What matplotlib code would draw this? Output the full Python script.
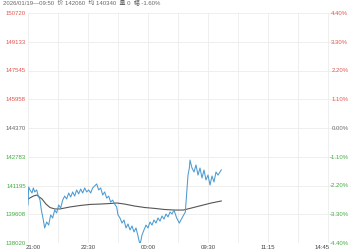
import matplotlib
matplotlib.use("Agg")
import matplotlib.pyplot as plt
import matplotlib.transforms as mtransforms

plt.rcParams["font.family"] = ["Liberation Sans", "Noto Sans CJK SC", "DejaVu Sans"]

# trading-minute index from 21:00 (night 240 min, then day session)
price_minute = [0, 1, 3, 6, 8, 10, 13, 15, 18, 20, 23, 25, 28, 31, 34, 37, 40, 43, 46, 49,
                52, 55, 58, 61, 64, 67, 70, 73, 76, 79, 82, 85, 88, 91, 94, 97, 100, 103,
                106, 109, 112, 115, 118, 121, 124, 127, 130, 133, 135, 138, 141, 144, 147,
                150, 153, 156, 159, 162, 165, 168, 171, 174, 177, 180, 183, 186, 189, 192,
                195, 198, 201, 204, 207, 210, 213, 216, 219, 223, 227, 231, 236, 240, 242,
                243, 246, 249, 252, 255, 258, 261, 264, 267, 270, 273, 276, 279, 282, 285, 290]
price = [140120, 141110, 140950, 140780, 141060, 140840, 140950, 140670, 140390, 139840,
         139290, 138850, 139180, 139010, 139570, 139400, 139840, 139680, 140120, 139950,
         140390, 140610, 140450, 140780, 140560, 140840, 140610, 140950, 140730, 141000,
         140780, 141060, 140840, 140950, 140780, 141060, 141170, 141280, 140950, 141060,
         140670, 140840, 140500, 140610, 140280, 140390, 140170, 140010, 139570, 139400,
         139120, 139290, 138850, 139070, 138740, 138960, 138630, 138850, 138410, 137910,
         138460, 138740, 139010, 138850, 139180, 139010, 139290, 139120, 139400, 139230,
         139510, 139340, 139620, 139460, 139730, 139620, 139840, 139400, 139120, 139400,
         139730, 141770, 142160, 142600, 142160, 141940, 142330, 141770, 142160, 141610,
         142050, 141500, 141770, 141220, 141720, 141390, 141940, 141770, 142060]

avg_minute = [0, 8, 13, 21, 27, 33, 40, 48, 63, 78, 93, 108, 123, 133, 145, 160, 175, 190,
              205, 220, 233, 245, 260, 275, 290]
avg_price = [140450, 140610, 140670, 140450, 140170, 139980, 139900, 139900, 140010, 140090,
             140150, 140170, 140200, 140230, 140170, 140060, 139980, 139930, 139870, 139840,
             139840, 139950, 140090, 140230, 140340]

price_ticks = [150720, 149133, 147545, 145958, 144370, 142783, 141195, 139608, 138020]
pct_labels = ["4.40%", "3.30%", "2.20%", "1.10%", "0.00%", "-1.10%", "-2.20%", "-3.30%", "-4.40%"]
time_ticks = [0, 90, 180, 270, 360, 450]
time_labels = ["21:00", "22:30", "00:00", "09:30", "11:15", "14:45"]
header = "2026/01/19\u201409:50  价 142060  均 140340  量 0  幅 -1.60%"

red, green, grey = "#e25550", "#3faa3f", "#666666"

fig = plt.figure(figsize=(3.5, 2.5), dpi=100)
ax = fig.add_axes([28 / 350, 7 / 250, 310 / 350, 230 / 250])

ax.plot(avg_minute, avg_price, color="#555555", lw=0.8)
ax.plot(price_minute, price, color="#4b9bd1", lw=0.75)

ax.set_xlim(0, 465)
ax.set_ylim(price_ticks[-1], price_ticks[0])
ax.set_xticks(range(0, 451, 45))
ax.set_yticks(price_ticks)
ax.grid(True, color="#ececec", lw=0.6)
for s in ax.spines.values():
    s.set_visible(False)

ax.set_yticklabels([str(p) for p in price_ticks])
ax.tick_params(axis="both", length=0, labelsize=4.3, pad=1.5)
cols = [red] * 4 + [grey] + [green] * 4
for lab, c in zip(ax.get_yticklabels(), cols):
    lab.set_color(c)

# time labels only every other grid line
xl = [""] * 11
for t, l in zip(time_ticks, time_labels):
    xl[t // 45] = l
ax.set_xticklabels(xl, color="#444444")
xlabs = ax.get_xticklabels()
xlabs[0].set_transform(xlabs[0].get_transform()
                       + mtransforms.ScaledTranslation(5 / 100, 0, fig.dpi_scale_trans))
xlabs[10].set_transform(xlabs[10].get_transform()
                        + mtransforms.ScaledTranslation(-6 / 100, 0, fig.dpi_scale_trans))

ax2 = ax.twinx()
ax2.set_ylim(ax.get_ylim())
ax2.set_yticks(price_ticks)
ax2.set_yticklabels(pct_labels)
ax2.tick_params(axis="y", length=0, labelsize=4.3, pad=7.5)
for lab, c in zip(ax2.get_yticklabels(), cols):
    lab.set_color(c)
    lab.set_horizontalalignment("right")
for s in ax2.spines.values():
    s.set_visible(False)

fig.text(3 / 350, 1 - 0.5 / 250, header, fontsize=4.3, color=grey, va="top", ha="left")

fig.savefig("out.png", dpi=100)
